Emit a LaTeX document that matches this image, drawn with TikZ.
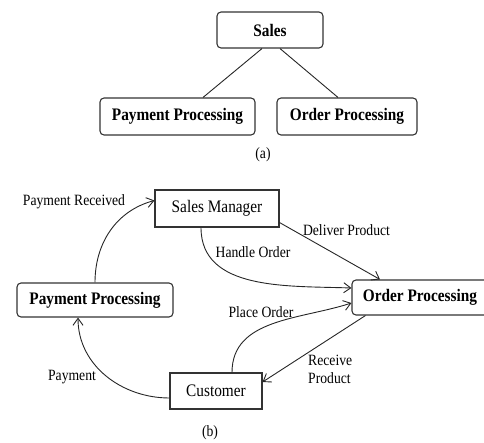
\documentclass[tikz,border=0pt]{standalone}
\usepackage{fontspec}
\setmainfont{Liberation Serif}[FakeStretch=0.87]
\usetikzlibrary{arrows.meta}
\begin{document}
\begin{tikzpicture}[x=1pt,y=1pt,
 box/.style={draw=black!80, line width=1.1pt, inner sep=0pt, font=\fontsize{17.6}{20}\selectfont},
 rbox/.style={box, rounded corners=4pt, font=\fontsize{17.6}{20}\selectfont\bfseries},
 lab/.style={inner sep=0pt, font=\fontsize{15.7}{18}\selectfont},
 conn/.style={draw=black!85, line width=0.9pt},
 arr/.style={conn, -{Straight Barb[length=7pt,width=10pt]}},
]
\useasboundingbox (0,0) rectangle (484,442);
% (a)
\node[rbox, minimum width=106pt, minimum height=36pt] (sales) at (270,412) {Sales};
\node[rbox, minimum width=155pt, minimum height=37pt] (pp1) at (177.5,325.5) {Payment Processing};
\node[rbox, minimum width=140pt, minimum height=37pt] (op1) at (347,325.5) {Order Processing};
\draw[conn] ([xshift=-8pt]sales.south) -- ([xshift=25.5pt]pp1.north);
\draw[conn] ([xshift=10pt]sales.south) -- ([xshift=-9pt]op1.north);
\node[lab] (capa) at (263,287) {(a)};
% (b)
\node[box, minimum width=124pt, minimum height=37pt] (sm) at (217,233.5) {Sales Manager};
\node[rbox, minimum width=156pt, minimum height=34pt] (pp2) at (95,142) {Payment Processing};
\node[rbox, minimum width=136pt, minimum height=35pt] (op2) at (420,144.5) {Order Processing};
\node[box, minimum width=92pt, minimum height=36pt] (cu) at (216,51) {Customer};
\draw[arr] (pp2.north) to[out=90,in=195] ([yshift=8pt]sm.west);
\draw[arr] ([xshift=-16pt]sm.south) to[out=270,in=178] ([yshift=9.5pt]op2.west);
\draw[arr] ([yshift=5pt]sm.south east) -- ([xshift=-40pt]op2.north);
\draw[arr] ([xshift=16pt]cu.north) to[out=90,in=198] ([yshift=-5.5pt]op2.west);
\draw[arr] ([xshift=14pt]op2.south west) -- ([yshift=9pt]cu.east);
\draw[arr] ([yshift=-7pt]cu.west) to[out=180,in=270] ([xshift=-17pt]pp2.south);
\node[lab] (lpr) at (74,240) {Payment Received};
\node[lab] (lho) at (253,190) {Handle Order};
\node[lab] (ldp) at (346.5,212) {Deliver Product};
\node[lab] (lpo) at (261,130) {Place Order};
\node[lab, anchor=west, align=left] (lrp) at (308,73) {Receive\\Product};
\node[lab] (lpay) at (72,65) {Payment};
\node[lab] (capb) at (210,9) {(b)};
\end{tikzpicture}
\end{document}
